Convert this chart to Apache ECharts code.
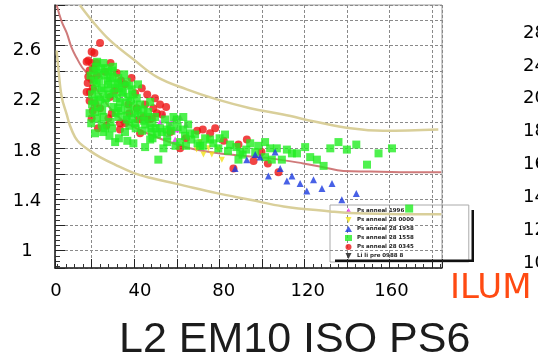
<!DOCTYPE html>
<html><head><meta charset="utf-8">
<script src="https://cdn.jsdelivr.net/npm/echarts@6/dist/echarts.min.js"></script>
<style>html,body{margin:0;padding:0;background:#fff}#c{width:538px;height:363px}</style>
</head><body><div id="c"></div>
<script>
// ---- text / tick labels ----
const xTickLabels = [0, 40, 80, 120, 160];
const yTickLabels = [1, 1.4, 1.8, 2.2, 2.6];
const sideTickLabels = ['10', '12', '14', '16', '18', '20', '24', '28'];
const titleText = 'L2 EM10 ISO PS6';
const sideText = 'ILUM';
const seriesNames = ['Ps anneal 1996', 'Ps anneal 28 0000', 'Ps anneal 28 1958', 'Ps anneal 28 1558', 'Ps anneal 28 0345', 'Li li pre 0988 8'];

// ---- data (x, y) ----
const magentaPoints = [[51.2,2.09],[59.2,2.07],[54.4,2.02],[57.6,1.97],[53.6,1.93],[60.7,1.91],[49.6,2.03],[56.0,2.05],[62.0,2.01],[56.8,1.89]];
const yellowPoints = [[68.7,1.87],[72.7,1.89],[67.1,1.81],[70.3,1.77],[74.3,1.77],[79.1,1.73],[72.7,1.82],[77.3,1.81]];
const bluePoints = [[91.0,1.73],[95.0,1.77],[97.3,1.75],[104.5,1.79],[85.4,1.66],[101.3,1.60],[106.9,1.66],[110.1,1.56],[112.5,1.60],[116.4,1.54],[119.6,1.48],[122.8,1.57],[126.8,1.50],[131.6,1.54],[136.3,1.41],[143.2,1.46]];
const greenPoints = [[22.6,2.50],[23.4,2.46],[20.2,2.42],[25.8,2.38],[29.7,2.38],[33.7,2.35],[28.2,2.33],[19.4,2.34],[21.8,2.30],[36.1,2.29],[31.4,2.27],[25.0,2.25],[20.2,2.23],[38.5,2.22],[30.5,2.19],[23.4,2.18],[27.3,2.15],[34.5,2.13],[41.7,2.13],[37.7,2.10],[18.6,2.11],[29.7,2.07],[22.6,2.07],[33.7,2.05],[47.2,2.07],[52.0,2.05],[57.6,2.05],[37.7,2.02],[18.6,1.94],[21.8,2.01],[28.2,1.87],[36.9,1.86],[42.5,1.83],[51.2,1.82],[45.7,1.95],[52.8,1.97],[56.0,2.07],[60.7,2.07],[48.1,1.93],[48.8,1.73],[63.9,1.94],[71.1,1.90],[77.4,1.82],[83.0,1.85],[87.8,1.79],[92.6,1.86],[99.7,1.87],[95.0,1.79],[99.7,1.75],[87.0,1.73],[110.1,1.81],[107.7,1.73],[105.3,1.82],[112.5,1.78],[114.9,1.78],[118.8,1.83],[121.2,1.75],[124.4,1.73],[127.6,1.68],[130.8,1.82],[134.7,1.87],[138.7,1.81],[143.2,1.85],[148.3,1.69],[153.8,1.78],[160.2,1.82],[102.9,1.73],[168.4,1.34],[17.7,2.44],[18.6,2.29],[21.0,2.21],[24.8,2.33],[26.7,2.44],[31.5,2.32],[34.4,2.23],[40.1,2.17],[43.9,2.11],[49.6,1.98],[54.4,2.00],[42.5,2.01],[26.7,1.98],[32.9,1.95],[23.4,1.98],[17.2,2.17],[19.6,2.51],[44.9,1.89],[63.0,2.01],[66.3,1.93],[73.5,1.89],[80.6,1.93],[44.9,2.19],[39.1,2.33],[29.6,2.14],[36.3,2.06],[59.2,1.87],[68.7,1.84],[90.7,1.81],[96.4,1.84],[102.1,1.82],[17.2,2.25],[44.9,1.98],[60.6,1.97],[27.2,2.47],
  [16.5,2.40],[18.0,2.36],[19.0,2.47],[21.5,2.45],[23.0,2.40],[24.5,2.36],[26.0,2.30],[27.5,2.26],[29.0,2.22],[30.0,2.30],[32.0,2.26],[33.0,2.18],[35.5,2.20],[37.0,2.16],[39.0,2.12],[40.5,2.08],[42.0,2.04],[44.0,2.07],[46.0,2.02],[47.5,1.98],[50.5,1.95],[53.0,1.92],[55.0,1.96],[58.0,1.99],[61.5,1.92],[64.5,1.89],[67.5,1.86],[70.0,1.84],[16.0,2.10],[16.8,2.02],[19.5,2.06],[22.0,2.12],[24.0,2.22],[26.0,2.03],[28.5,2.10],[31.0,2.12],[33.5,2.08],[35.0,2.00],[38.0,1.98],[20.5,2.36],[22.5,2.28],[25.0,2.43],[27.0,2.39],[29.5,2.34],[32.5,2.41],[35.0,2.32],[36.5,2.25],[18.0,2.20],[20.0,2.15],[22.5,1.95],[25.5,1.92],[30.0,1.90],[34.0,1.88],[41.0,1.96],[46.0,1.90],[53.0,1.87],[57.0,1.84],[62.0,1.84],[75.0,1.86],[78.0,1.90],[82.0,1.80],[86.0,1.83],[89.0,1.77]];
const redPoints = [[21.0,2.66],[17.0,2.59],[18.3,2.58],[15.4,2.52],[17.0,2.50],[19.4,2.50],[15.4,2.39],[17.0,2.37],[15.1,2.34],[16.2,2.27],[23.4,2.43],[29.0,2.42],[40.9,2.30],[37.7,2.26],[34.5,2.17],[42.5,2.17],[47.2,2.22],[46.4,2.14],[17.0,2.06],[25.0,2.06],[39.3,2.05],[44.0,2.05],[40.1,1.94],[26.6,2.10],[18.6,2.18],[25.8,2.23],[45.7,2.06],[75.9,1.98],[73.5,1.94],[91.0,1.89],[59.2,1.82],[87.0,1.85],[94.2,1.72],[84.6,1.66],[106.1,1.63],[48.1,2.10],[21.0,2.14],[30.5,2.02],[14.6,2.51],[14.6,2.27],[41.7,2.07],[32.9,2.33],[49.6,2.17],[30.5,1.97],[67.3,1.96],
  [18.0,2.45],[16.0,2.44],[19.5,2.40],[17.5,2.30],[16.0,2.20],[17.5,2.12],[28.0,2.28],[31.0,2.36],[36.0,2.38],[26.0,2.50],[33.0,2.02],[35.0,2.10],[43.5,2.25],[38.5,2.14],[50.5,2.09],[52.5,2.15],[54.5,1.95],[24.0,2.00],[20.0,1.98],[62.0,1.90],[70.0,1.97],[80.0,1.88],[98.0,1.79],[101.0,1.70]];
const blackPoints = [];

// ---- fitted curves ----
const redCurve = [[0.33,2.96],[2.72,2.83],[5.11,2.74],[7.49,2.62],[9.88,2.54],[12.26,2.47],[14.65,2.42],[21.0,2.25],[30.5,2.06],[44.9,1.93],[63.9,1.82],[83.0,1.77],[102.1,1.74],[117.9,1.70],[127.4,1.67],[137.0,1.64],[149.8,1.635],[164.2,1.63],[183.7,1.63]];
const upperBand = [[11.45,2.96],[17.04,2.84],[25.77,2.68],[36.89,2.53],[48.05,2.39],[62.37,2.29],[76.69,2.21],[92.58,2.14],[108.3,2.09],[124.4,2.03],[140.4,1.98],[156.0,1.96],[182.3,1.97]];
const lowerBand = [[0.33,2.60],[1.10,2.46],[2.72,2.23],[5.11,2.09],[6.68,2.00],[9.07,1.91],[11.45,1.86],[16.22,1.80],[20.99,1.75],[28.15,1.69],[36.89,1.625],[44.86,1.585],[57.60,1.537],[76.69,1.463],[92.58,1.41],[108.5,1.357],[130.8,1.317],[140.4,1.304],[164.2,1.295],[183.7,1.295]];

const downTri = 'path://M0,0L10,0L5,10Z';
const chart = echarts.init(document.getElementById('c'), null, {renderer: 'canvas'});
const font = 'DejaVu Sans';
function sc(name, data, color, symbol, size) {
  return {type: 'scatter', name, data, symbol, symbolSize: size, xAxisIndex: 0, yAxisIndex: 0,
    itemStyle: {color}, z: 3, silent: true, animation: false};
}
function curve(data, color, w) {
  return {type: 'line', data, smooth: 0.4, symbol: 'none', xAxisIndex: 0, yAxisIndex: 0,
    lineStyle: {color, width: w}, z: 1, silent: true, animation: false, clip: true};
}
chart.setOption({
  animation: false,
  backgroundColor: '#fff',
  grid: [
    {left: 55, top: 5, width: 387, height: 263, show: true, borderColor: '#9a9a9a', borderWidth: 1, backgroundColor: '#fff'},
    {left: 545, top: 33, width: 5, height: 230, show: false}
  ],
  title: {text: titleText, left: 119, top: 319, padding: 0,
    textStyle: {fontSize: 43, fontWeight: 'normal', fontFamily: 'Liberation Sans', color: '#1c1c1c'}},
  xAxis: [
    {type: 'value', gridIndex: 0, min: -0.477, max: 184.06, position: 'bottom',
      axisLine: {show: false, onZero: false}, axisTick: {show: false}, splitLine: {show: false},
      axisLabel: {customValues: xTickLabels, fontSize: 18, color: '#000', fontFamily: font, margin: 14}},
    {type: 'value', gridIndex: 0, min: 2.73, max: 184.7, splitNumber: 9, minInterval: 20, maxInterval: 20, position: 'bottom',
      axisLine: {show: true, onZero: false, lineStyle: {color: '#222', width: 1.5}},
      axisTick: {show: true, inside: true, length: 9, lineStyle: {color: '#222'}},
      minorTick: {show: true, splitNumber: 5, length: 4, lineStyle: {color: '#333'}},
      splitLine: {show: true, lineStyle: {color: '#8a8a8a', type: [3, 2], width: 1}},
      axisLabel: {show: false}},
    {type: 'value', gridIndex: 1, show: false}
  ],
  yAxis: [
    {type: 'value', gridIndex: 0, min: 0.8662, max: 2.9626, position: 'left',
      axisLine: {show: false, onZero: false}, axisTick: {show: false}, splitLine: {show: false},
      axisLabel: {customValues: yTickLabels, fontSize: 18, color: '#000', fontFamily: font, margin: 28, align: 'center'}},
    {type: 'value', gridIndex: 0, min: 0.865, max: 2.917, splitNumber: 10, minInterval: 0.2, maxInterval: 0.2, position: 'left',
      axisLine: {show: true, onZero: false, lineStyle: {color: '#222', width: 1.5}},
      axisTick: {show: true, inside: true, length: 10, lineStyle: {color: '#222'}},
      minorTick: {show: true, splitNumber: 5, length: 5, lineStyle: {color: '#333'}},
      splitLine: {show: true, lineStyle: {color: '#8a8a8a', type: [3, 2], width: 1}},
      axisLabel: {show: false}},
    {type: 'category', gridIndex: 1, data: sideTickLabels, boundaryGap: false, position: 'left',
      axisLine: {show: false}, axisTick: {show: false}, splitLine: {show: false},
      axisLabel: {interval: 0, align: 'left', margin: 22, fontSize: 18, color: '#000', fontFamily: font}}
  ],
  legend: {
    data: seriesNames, orient: 'vertical', left: 330, top: 205, itemWidth: 7, itemHeight: 6, itemGap: 3,
    padding: [3, 55, 3, 15], borderColor: '#aaa', borderWidth: 1, z: 0, selectedMode: false,
    textStyle: {fontSize: 5.5, fontWeight: 'bold', color: '#222', lineHeight: 6, fontFamily: font}
  },
  graphic: [
    {type: 'rect', shape: {x: 471.5, y: 210, width: 2.5, height: 52}, style: {fill: '#111'}, silent: true},
    {type: 'rect', shape: {x: 335, y: 259.5, width: 139, height: 2.5}, style: {fill: '#111'}, silent: true},
    {type: 'text', left: 450, top: 272, style: {text: sideText, fontSize: 34, fontFamily: font, fill: '#ff4a12'}, silent: true}
  ],
  series: [
    curve(upperBand, '#d9cf9a', 2.5),
    curve(lowerBand, '#d9cf9a', 2.5),
    curve(redCurve, '#cf7a7a', 2),
    sc(seriesNames[1], yellowPoints, '#f2e21a', downTri, 6),
    sc(seriesNames[0], magentaPoints, '#ee33ee', 'triangle', 6),
    sc(seriesNames[4], redPoints, '#ee1515', 'circle', 8),
    sc(seriesNames[3], greenPoints, '#22ee22', 'rect', 8),
    sc(seriesNames[2], bluePoints, '#1a3ae0', 'triangle', 7),
    sc(seriesNames[5], blackPoints, '#111', downTri, 6)
  ]
});
</script></body></html>
